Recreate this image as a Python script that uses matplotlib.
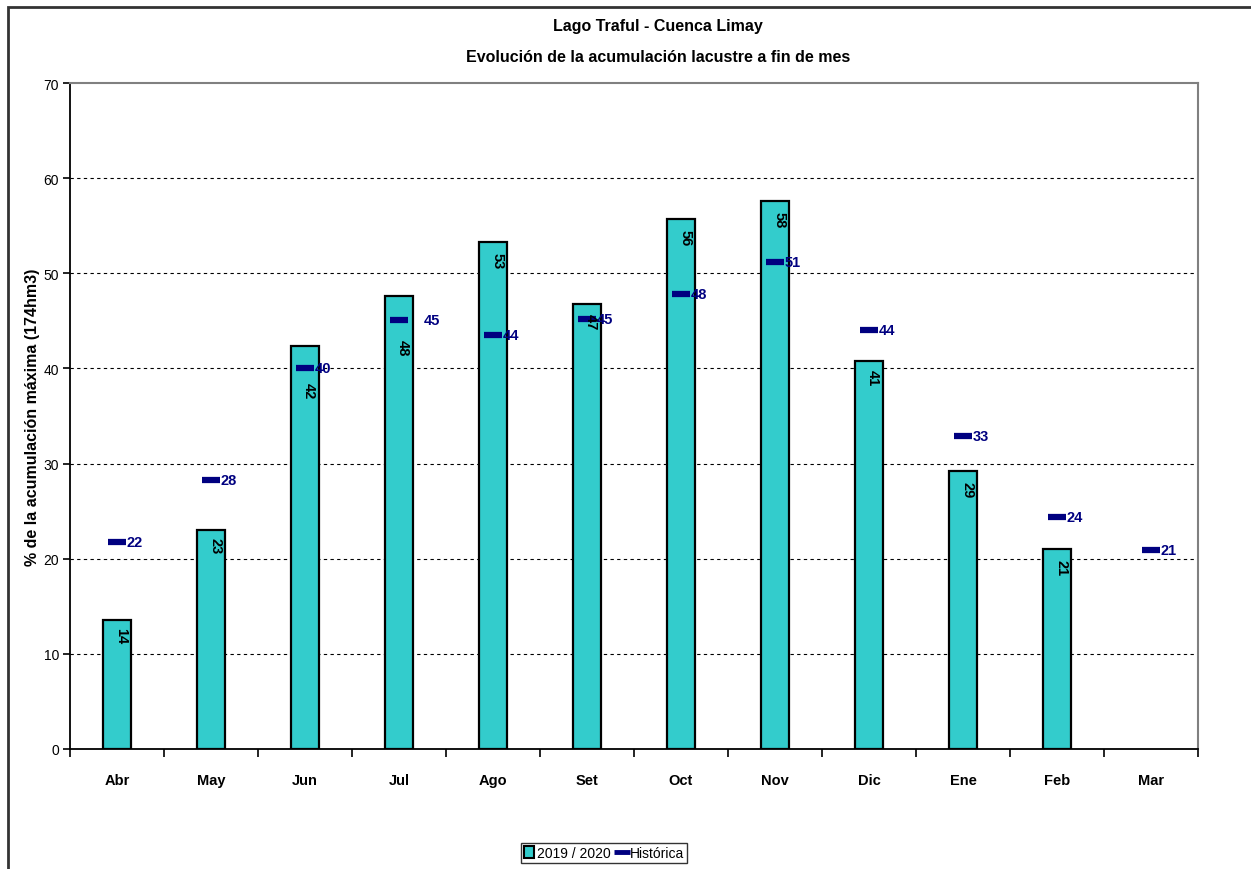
import matplotlib
matplotlib.use("Agg")
import matplotlib.pyplot as plt
from matplotlib.patches import Patch, Rectangle
from matplotlib.lines import Line2D
from matplotlib import font_manager

meses = ["Abr", "May", "Jun", "Jul", "Ago", "Set", "Oct", "Nov", "Dic", "Ene", "Feb", "Mar"]
actual = [13.6, 23.0, 42.4, 47.6, 53.3, 46.8, 55.7, 57.6, 40.8, 29.2, 21.0, None]
historica = [21.8, 28.3, 40.0, 45.1, 43.5, 45.2, 47.8, 51.2, 44.0, 32.9, 24.4, 20.9]
yticks = [0, 10, 20, 30, 40, 50, 60, 70]

# label placement tweaks (points)
bar_lbl_off = [-5, -5, -26, -31, -7, -7, -7, -7, -6, -7, -7, -7]
hist_lbl_off = [7, 7, 7, 18, 7, 7, 7, 7, 7, 7, 7, 7]

names = {f.name for f in font_manager.fontManager.ttflist}
fam = [f for f in ["Liberation Sans Narrow", "Liberation Sans", "DejaVu Sans"] if f in names]
plt.rcParams["font.family"] = fam

teal = "#33CCCC"
navy = "#000080"

fig = plt.figure(figsize=(12.51, 8.70), dpi=100)
ax = fig.add_axes([70 / 1251, 120 / 870, 1128 / 1251, 666 / 870])

# outer chart frame
fig.patches.append(Rectangle((8 / 1251, -0.05), 1.1, 0.05 + 862 / 870, transform=fig.transFigure,
                             fill=False, edgecolor="#333333", linewidth=2))

x = list(range(len(meses)))
bx = [i for i, v in zip(x, actual) if v is not None]
bv = [v for v in actual if v is not None]
ax.bar(bx, bv, width=0.29, color=teal, edgecolor="black", linewidth=1.6, zorder=3)
ax.plot(x, historica, linestyle="none", marker="_", markersize=13, markeredgewidth=4.5,
        color=navy, zorder=4)

for i, v in zip(bx, bv):
    ax.annotate(f"{round(v):d}", (i, v), xytext=(3, bar_lbl_off[i]), textcoords="offset points",
                rotation=270, ha="center", va="top", fontsize=10.5, fontweight="bold", zorder=5)
for i, v in enumerate(historica):
    ax.annotate(f"{round(v):d}", (i, v), xytext=(hist_lbl_off[i], 0), textcoords="offset points",
                ha="left", va="center", fontsize=10.5, fontweight="bold", color=navy, zorder=5)

ax.set_xlim(-0.5, 11.5)
ax.set_ylim(0, 70)
ax.set_yticks(yticks)
ax.set_xticks(x)
ax.set_xticklabels(meses, fontweight="bold", fontsize=10.5)
ax.set_xticks([i + 0.5 for i in range(-1, 12)], minor=True)
ax.tick_params(axis="x", which="major", length=0, pad=17)
ax.tick_params(axis="x", which="minor", length=6, width=1.2, direction="out")
ax.tick_params(axis="y", length=5, width=1.2, labelsize=10, pad=3)

for t in yticks[1:-1]:
    ax.axhline(t, color="black", linewidth=0.8, linestyle=(0, (3, 3)), zorder=1)

ax.spines["left"].set_linewidth(1.3)
ax.spines["bottom"].set_linewidth(1.3)
ax.spines["top"].set_color("#808080")
ax.spines["right"].set_color("#808080")
ax.spines["top"].set_linewidth(1.5)
ax.spines["right"].set_linewidth(1.5)

fig.text(658 / 1251, 1 - 27 / 870, "Lago Traful - Cuenca Limay", ha="center", va="center",
         fontsize=11.5, fontweight="bold")
fig.text(658 / 1251, 1 - 57 / 870, "Evolución de la acumulación lacustre a fin de mes", ha="center",
         va="center", fontsize=11.5, fontweight="bold")
fig.text(33 / 1251, 1 - 417 / 870, "% de la acumulación máxima (174hm3)", rotation=90,
         ha="center", va="center", fontsize=11.5, fontweight="bold")

handles = [Patch(facecolor=teal, edgecolor="black", linewidth=1.5, label="2019 / 2020"),
           Line2D([], [], color=navy, marker="_", markersize=11, markeredgewidth=3.5,
                  linestyle="none", label="Histórica")]
leg = fig.legend(handles=handles, loc="center", bbox_to_anchor=(604 / 1251, 1 - 854 / 870), ncol=2,
                 fontsize=10, frameon=True, fancybox=False, edgecolor="black",
                 handlelength=0.7, handleheight=0.9, handletextpad=0.2, columnspacing=0.5,
                 borderpad=0.25, borderaxespad=0)
leg.get_frame().set_linewidth(1.0)

fig.savefig("out.png", dpi=100)
